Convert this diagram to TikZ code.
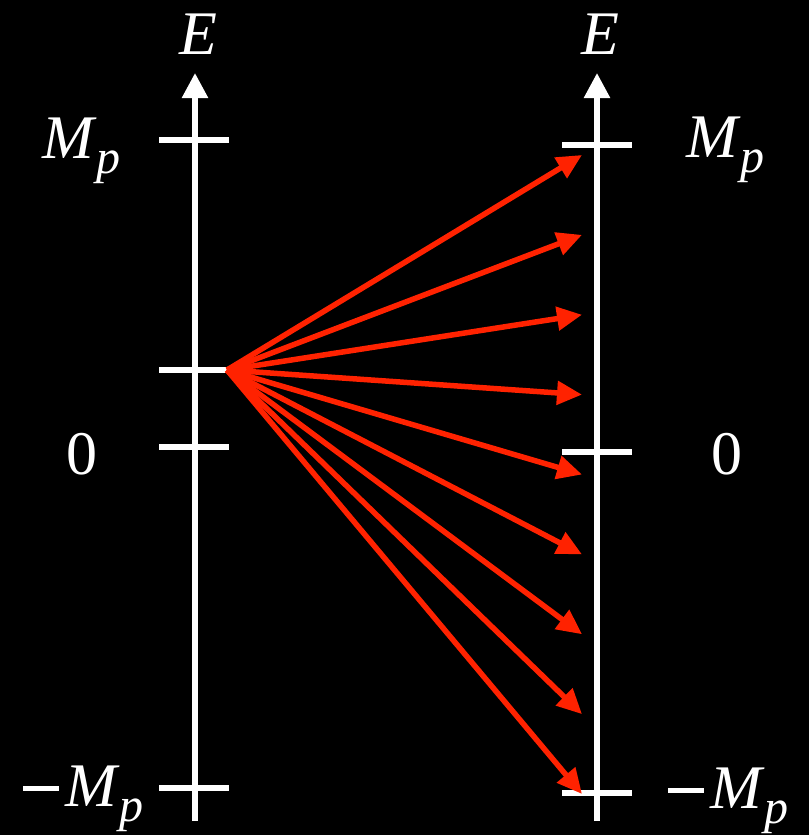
\documentclass[tikz,border=0pt]{standalone}
\usepackage{fontspec}
\setmainfont{Liberation Serif}
\usetikzlibrary{calc, positioning}
\usetikzlibrary{arrows.meta}
\definecolor{fluxred}{RGB}{255,34,0}
\newcommand{\Mp}{\textit{M}\raisebox{-0.25em}{\fontsize{48}{48}\selectfont\textit{p}}}
\newcommand{\minusbar}{\rule[0.24em]{0.58em}{0.085em}\hspace{0.1em}}

\begin{document}
\begin{tikzpicture}[x=1pt,y=-1pt,font=\fontsize{62}{62}\selectfont,
  axis/.style={line width=5.5pt,white,-{Triangle[length=25pt,width=25pt]}},
  tick/.style={line width=5.5pt,white},
  flux/.style={line width=5.5pt,fluxred,-{Triangle[length=25pt,width=23pt]}},
  lab/.style={text=white,inner sep=0pt}]
\fill[black] (0,0) rectangle (809,835);
\useasboundingbox (0,0) rectangle (809,835);
\def\leftx{195}
\def\rightx{597}
\def\tipx{582}
\coordinate (LeftBottom) at (\leftx,821);
\coordinate (LeftTop) at (\leftx,73);
\coordinate (RightBottom) at (\rightx,821);
\coordinate (RightTop) at (\rightx,73);
\coordinate (Src) at (227,370);

\draw[axis] (LeftBottom) -- (LeftTop);
\draw[axis] (RightBottom) -- (RightTop);

\draw[tick] (159,140) -- (229,140);
\draw[tick] (159,370) -- (Src);
\draw[tick] (159,447) -- (229,447);
\draw[tick] (159,788) -- (229,788);
\draw[tick] (562,145) -- (632,145);
\draw[tick] (562,452) -- (632,452);
\draw[tick] (562,793) -- (632,793);

\foreach \i in {0,...,8}{
  \coordinate (Tip\i) at (\tipx,{155+79.875*\i});
  \draw[flux] (Src) -- (Tip\i);
}

\node[lab,anchor=base] (LeftE) at (198,54) {\textit{E}};
\node[lab,anchor=base] (RightE) at (600,54) {\textit{E}};
\node[lab,anchor=base west] (LeftMp) at (42,158) {\Mp};
\node[lab,anchor=base] (LeftZero) at (82,474) {0};
\node[lab,anchor=base west] (LeftMinusMp) at (23,806) {\minusbar\Mp};
\node[lab,anchor=base west] (RightMp) at (686,157) {\Mp};
\node[lab,anchor=base] (RightZero) at (727,474) {0};
\node[lab,anchor=base west] (RightMinusMp) at (668,808) {\minusbar\Mp};
\end{tikzpicture}
\end{document}
